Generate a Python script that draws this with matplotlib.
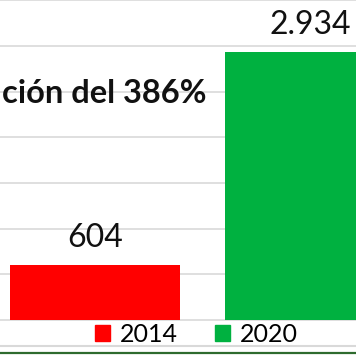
import matplotlib.pyplot as plt
from matplotlib.lines import Line2D
from matplotlib.patches import Patch

years = ["2014", "2020"]
values = [604, 2934]
labels = ["604", "2.934"]
colors = ["#FF0000", "#00B140"]
grid_ticks = [0, 500, 1000, 1500, 2000, 2500, 3000, 3500]
note = "ción del 386%"

plt.rcParams["font.family"] = ["Lato", "DejaVu Sans"]

fig = plt.figure(figsize=(3.56, 3.64), dpi=100)
ax = fig.add_axes([0, 0, 1, 1])

# el grafico original esta recortado: la barra verde sale por la derecha
ax.set_xlim(-0.442, 1.214)
ax.set_ylim(-482, 3504)

for t in grid_ticks:
    ax.axhline(t, color="#D9D9D9", lw=1.2, zorder=0)

x = [0, 1]
ax.bar(x, values, width=0.79, color=colors, zorder=2)

for xi, v, lab in zip(x, values, labels):
    ax.text(xi, v + 200, lab, ha="center", va="baseline", fontsize=23, color="#111111")

ax.text(2 / 356, 1 - 103 / 364, note, transform=ax.transAxes, ha="left",
        va="baseline", fontsize=23.5, fontweight="bold", color="#111111")

handles = [Patch(color=c, label=y) for c, y in zip(colors, years)]
ax.legend(handles=handles, ncol=2, loc="center", bbox_to_anchor=(196.5 / 356, 1 - 334.5 / 364),
          frameon=False, fontsize=18, handlelength=0.6, handleheight=0.6,
          handletextpad=0.4, columnspacing=1.5, borderpad=0)

# lineas del marco inferior
fig.add_artist(Line2D([0, 1], [1 - 345.5 / 364] * 2, color="#D9D9D9", lw=1.5))
fig.add_artist(Line2D([0, 1], [1 - 352.5 / 364] * 2, color="#2E6B2E", lw=1.6))

ax.axis("off")
fig.savefig("out.png", dpi=100)
